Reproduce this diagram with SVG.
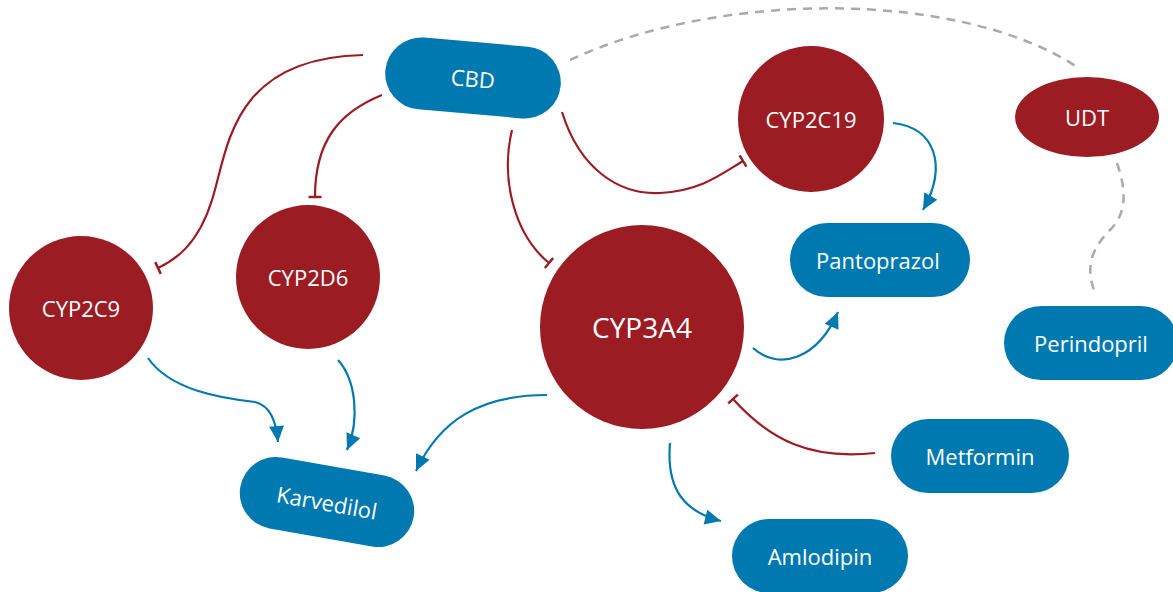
<svg xmlns="http://www.w3.org/2000/svg" width="1173" height="592" viewBox="0 0 1173 592">
<style>
.red{fill:#9c1c24}
.blue{fill:#0079b0}
.lbl{fill:#ffffff;font-family:"Open Sans","Noto Sans",sans-serif;font-size:22px;text-anchor:middle;dominant-baseline:central}
.inh{fill:none;stroke:#9c1c24;stroke-width:2.2;marker-end:url(#tbar)}
.act{fill:none;stroke:#0079b0;stroke-width:2.2;marker-end:url(#arr)}
.dash{fill:none;stroke:#aaaaaa;stroke-width:2.5;stroke-dasharray:9 7}
</style>
<defs>
<marker id="tbar" markerUnits="userSpaceOnUse" viewBox="-3 -8 6 16" markerWidth="6" markerHeight="16" refX="0" refY="0" orient="auto">
<line x1="0" y1="-6.5" x2="0" y2="6.5" stroke="#9c1c24" stroke-width="2.5"/>
</marker>
<marker id="arr" markerUnits="userSpaceOnUse" viewBox="-17 -9 18 18" markerWidth="18" markerHeight="18" refX="0" refY="0" orient="auto">
<path d="M0,0 L-16,-7.5 L-16,7.5 Z" fill="#0079b0"/>
</marker>
</defs>
<g id="connectors">
<path class="dash" d="M570,60 C720,-10 960,-10 1077,67"/>
<path class="dash" d="M1117,163 C1128,195 1125,215 1110,230 C1090,250 1085,270 1096,295"/>
<path class="inh" d="M363,55 C230,58 228,150 212,200 C198,245 175,260 158,268"/>
<path class="inh" d="M382,95 C340,112 315,140 315,197"/>
<path class="inh" d="M512,130 C500,180 515,235 549,263"/>
<path class="inh" d="M562,112 C580,170 620,195 660,193 C700,191 720,175 743,161"/>
<path class="inh" d="M875,453 C810,460 770,440 733,399"/>
<path class="act" d="M893,123 C935,128 948,165 923,210"/>
<path class="act" d="M753,348 C780,372 818,358 838,312"/>
<path class="act" d="M547,395 C480,395 440,420 416,471"/>
<path class="act" d="M670,443 C666,490 685,512 721,521"/>
<path class="act" d="M148,358 C170,390 220,398 255,402 C270,406 276,420 278,442"/>
<path class="act" d="M338,360 C356,380 360,420 347,450"/>
</g>
<g id="cbd">
<g transform="translate(473,78) rotate(5)">
<rect class="blue" x="-88" y="-36" width="176" height="72" rx="36"/>
<text class="lbl" x="0" y="0">CBD</text>
</g>
</g>
<g id="karvedilol">
<g transform="translate(327,502) rotate(10)">
<rect class="blue" x="-88" y="-36" width="176" height="72" rx="36"/>
<text class="lbl" x="0" y="0">Karvedilol</text>
</g>
</g>
<g id="cyp2c9">
<circle class="red" cx="81" cy="308" r="72"/>
<text class="lbl" x="81" y="308">CYP2C9</text>
</g>
<g id="cyp2d6">
<circle class="red" cx="308" cy="277" r="72"/>
<text class="lbl" x="308" y="277">CYP2D6</text>
</g>
<g id="cyp3a4">
<circle class="red" cx="642" cy="327" r="102"/>
<text class="lbl" x="642" y="327" style="font-size:28px">CYP3A4</text>
</g>
<g id="cyp2c19">
<circle class="red" cx="811" cy="119" r="73"/>
<text class="lbl" x="811" y="119">CYP2C19</text>
</g>
<g id="udt">
<ellipse class="red" cx="1087" cy="117" rx="72" ry="40"/>
<text class="lbl" x="1087" y="117">UDT</text>
</g>
<g id="pantoprazol">
<rect class="blue" x="790" y="223" width="180" height="74" rx="37"/>
<text class="lbl" x="878" y="260">Pantoprazol</text>
</g>
<g id="perindopril">
<rect class="blue" x="1004" y="306" width="174" height="74" rx="37"/>
<text class="lbl" x="1091" y="343">Perindopril</text>
</g>
<g id="metformin">
<rect class="blue" x="891" y="419" width="178" height="74" rx="37"/>
<text class="lbl" x="980" y="456">Metformin</text>
</g>
<g id="amlodipin">
<rect class="blue" x="732" y="519" width="176" height="74" rx="37"/>
<text class="lbl" x="820" y="556">Amlodipin</text>
</g>
</svg>
